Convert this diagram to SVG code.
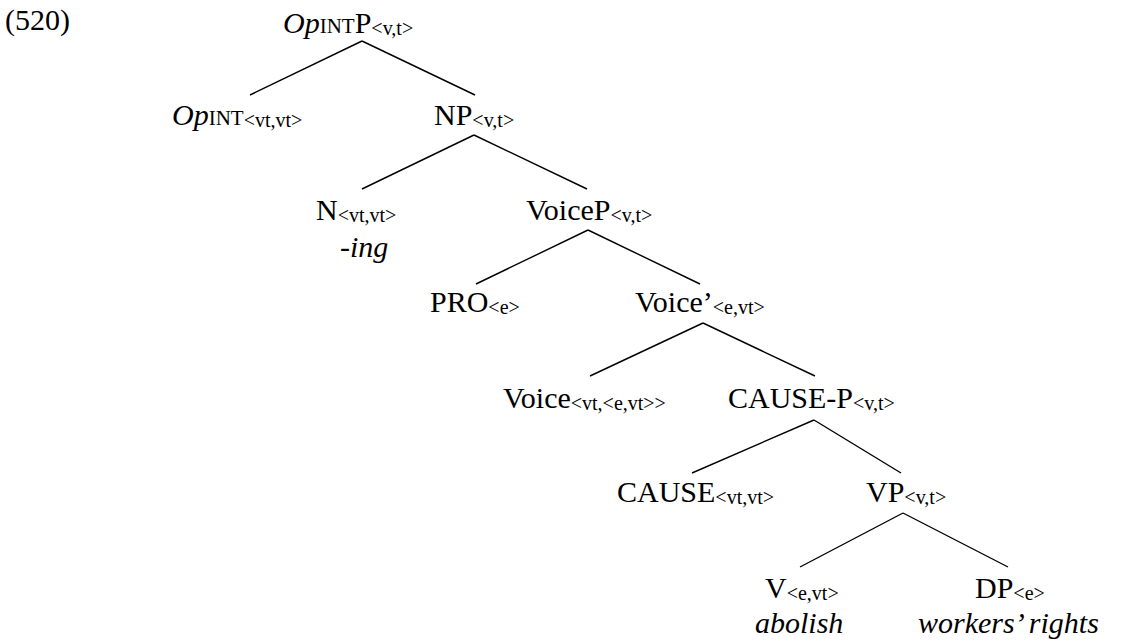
<svg xmlns="http://www.w3.org/2000/svg" width="1146" height="641" viewBox="0 0 1146 641">
<style>
text{font-family:"Liberation Serif","Times New Roman","DejaVu Serif",serif;font-size:30px;fill:#000}
.sub{font-size:20px}
.sc{font-size:21px}
.it{font-style:italic}
.edge{stroke:#000;stroke-width:1.4;fill:none}
</style>
<rect width="1146" height="641" fill="#fff"/>
<text id="label" x="5" y="30">(520)</text>
<g id="connectors">
<path class="edge" d="M362,41 L250,95 M362,41 L475,95"/>
<path class="edge" d="M474,135 L362,189 M474,135 L587,189"/>
<path class="edge" d="M588,230 L476,284 M588,230 L700,284"/>
<path class="edge" d="M703,323 L590,376 M703,323 L815,376"/>
<path class="edge" d="M814,420 L692,473 M814,420 L901,473"/>
<path class="edge" d="M903,513 L800,567 M903,513 L1008,567"/>
</g>
<g id="n-opintp"><text x="283" y="33"><tspan class="it">Op</tspan><tspan class="sc">INT</tspan>P<tspan class="sub" dy="2">&lt;v,t&gt;</tspan></text></g>
<g id="n-opint"><text x="172" y="125"><tspan class="it">Op</tspan><tspan class="sc">INT</tspan><tspan class="sub" dy="2">&lt;vt,vt&gt;</tspan></text></g>
<g id="n-np"><text x="434" y="125">NP<tspan class="sub" dy="2">&lt;v,t&gt;</tspan></text></g>
<g id="n-n"><text x="316" y="220">N<tspan class="sub" dy="2">&lt;vt,vt&gt;</tspan></text><text class="it" x="340" y="257">-ing</text></g>
<g id="n-voicep"><text x="526" y="220">VoiceP<tspan class="sub" dy="2">&lt;v,t&gt;</tspan></text></g>
<g id="n-pro"><text x="430" y="312">PRO<tspan class="sub" dy="2">&lt;e&gt;</tspan></text></g>
<g id="n-voicebar"><text x="635" y="312">Voice’<tspan class="sub" dy="2">&lt;e,vt&gt;</tspan></text></g>
<g id="n-voice"><text x="503" y="408">Voice<tspan class="sub" dy="2">&lt;vt,&lt;e,vt&gt;&gt;</tspan></text></g>
<g id="n-causep"><text x="728" y="408">CAUSE-P<tspan class="sub" dy="2">&lt;v,t&gt;</tspan></text></g>
<g id="n-cause"><text x="617" y="502">CAUSE<tspan class="sub" dy="2">&lt;vt,vt&gt;</tspan></text></g>
<g id="n-vp"><text x="866" y="502">VP<tspan class="sub" dy="2">&lt;v,t&gt;</tspan></text></g>
<g id="n-v"><text x="765" y="598">V<tspan class="sub" dy="2">&lt;e,vt&gt;</tspan></text><text class="it" x="755" y="633">abolish</text></g>
<g id="n-dp"><text x="975" y="598">DP<tspan class="sub" dy="2">&lt;e&gt;</tspan></text><text class="it" x="918" y="633">workers’ rights</text></g>
</svg>
